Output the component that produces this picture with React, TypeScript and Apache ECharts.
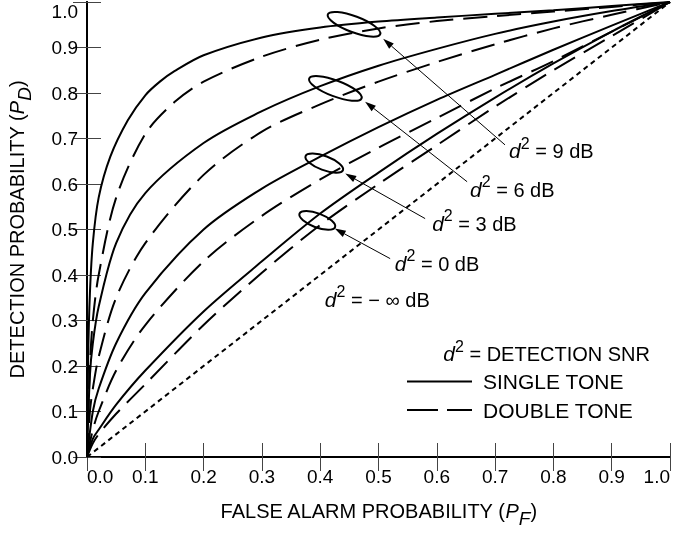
import React, { useEffect, useRef } from 'react';
import * as echarts from 'echarts';

const FONT = '"Liberation Sans", Arial, Helvetica, sans-serif';

// ROC curves [P_F, P_D]
const single9 = [[0,0],[0.002,0.22],[0.005,0.36],[0.01,0.47],[0.02,0.57],[0.04,0.66],[0.07,0.74],[0.1,0.795],[0.125,0.825],[0.15,0.848],[0.2,0.883],[0.3,0.922],[0.4,0.944],[0.5,0.957],[0.6,0.966],[0.7,0.974],[0.8,0.982],[0.9,0.991],[1,1]];
const double9 = [[0,0],[0.005,0.2],[0.01,0.3],[0.02,0.4],[0.05,0.57],[0.1,0.71],[0.15,0.78],[0.2,0.825],[0.3,0.88],[0.4,0.917],[0.5,0.942],[0.6,0.958],[0.7,0.969],[0.8,0.979],[0.9,0.989],[1,1]];
const single6 = [[0,0],[0.005,0.18],[0.01,0.25],[0.02,0.33],[0.05,0.47],[0.1,0.58],[0.2,0.69],[0.3,0.76],[0.4,0.815],[0.5,0.86],[0.6,0.897],[0.7,0.93],[0.8,0.957],[0.9,0.98],[1,1]];
const double6 = [[0,0],[0.005,0.1],[0.01,0.15],[0.02,0.22],[0.05,0.35],[0.1,0.47],[0.2,0.62],[0.3,0.715],[0.4,0.775],[0.5,0.825],[0.6,0.868],[0.7,0.907],[0.8,0.942],[0.9,0.972],[1,1]];
const single3 = [[0,0],[0.01,0.1],[0.02,0.15],[0.05,0.25],[0.1,0.36],[0.2,0.5],[0.3,0.59],[0.4,0.66],[0.5,0.725],[0.6,0.785],[0.7,0.84],[0.8,0.895],[0.9,0.948],[1,1]];
const double3 = [[0,0],[0.01,0.06],[0.02,0.1],[0.05,0.19],[0.1,0.29],[0.2,0.43],[0.3,0.53],[0.4,0.61],[0.5,0.68],[0.6,0.745],[0.7,0.81],[0.8,0.87],[0.9,0.935],[1,1]];
const single0 = [[0,0],[0.01,0.04],[0.02,0.06],[0.05,0.115],[0.1,0.19],[0.2,0.32],[0.3,0.43],[0.4,0.535],[0.5,0.625],[0.6,0.71],[0.7,0.79],[0.8,0.865],[0.9,0.935],[1,1]];
const double0 = [[0,0],[0.01,0.03],[0.02,0.05],[0.05,0.095],[0.1,0.16],[0.2,0.29],[0.3,0.405],[0.4,0.51],[0.5,0.6],[0.6,0.685],[0.7,0.77],[0.8,0.85],[0.9,0.925],[1,1]];
const chance = [[0,0],[1,1]];

// Annotations (data coordinates)
const snrLabels = ['9', '6', '3', '0'];
const ellipseCenters = [[0.458,0.951],[0.426,0.810],[0.407,0.646],[0.395,0.520]];
const ellipseRadii = [[28,8],[28,8],[20,7],[19,7]];
const arrowHeads = [[0.508,0.919],[0.477,0.781],[0.443,0.623],[0.425,0.502]];
const arrowTails = [[0.717,0.686],[0.652,0.605],[0.580,0.524],[0.520,0.436]];
const labelAnchors = [[0.724,0.679],[0.657,0.594],[0.592,0.519],[0.528,0.431]];
const infLabelAnchor = [0.408, 0.352];
const legendNames = ['SINGLE TONE', 'DOUBLE TONE'];

const richD = {
  i: { fontFamily: FONT, fontSize: 21, fontStyle: 'italic', color: '#000', lineHeight: 26, verticalAlign: 'bottom' },
  sup: { fontFamily: FONT, fontSize: 16, color: '#000', lineHeight: 26, verticalAlign: 'top' },
  n: { fontFamily: FONT, fontSize: 20, color: '#000', lineHeight: 26, verticalAlign: 'bottom' },
};

export default function App() {
  const ref = useRef<HTMLDivElement>(null);
  useEffect(() => {
    if (!ref.current) return;
    const chart = echarts.init(ref.current, undefined, { renderer: 'svg' });
    const solid = { color: '#000', width: 2, type: 'solid' as const };
    const dashed = { color: '#000', width: 2, type: [24, 10] };
    const mk = (name: string, data: number[][], ls: any) => ({
      type: 'line', name, data, symbol: 'none', smooth: 0.3, silent: true,
      lineStyle: ls, itemStyle: { color: '#000' },
    });
    const axisCommon = {
      type: 'value', min: 0, max: 1, interval: 0.1,
      axisLine: { show: true, lineStyle: { color: '#000', width: 2 } },
      axisTick: { show: true, inside: true, length: 14, lineStyle: { color: '#444', width: 1 } },
      splitLine: { show: false },
    };
    const nameRich = {
      n: { fontFamily: FONT, fontSize: 20, color: '#000', lineHeight: 28 },
      i: { fontFamily: FONT, fontSize: 20, fontStyle: 'italic', color: '#000', lineHeight: 28 },
      s: { fontFamily: FONT, fontSize: 19, fontStyle: 'italic', color: '#000', lineHeight: 28, padding: [14, 0, 0, 0] },
    };
    chart.setOption({
      animation: false,
      grid: { left: 87, right: 6, top: 2, bottom: 79, outerBoundsMode: 'none', containLabel: false },
      xAxis: [
        {
          ...axisCommon, position: 'bottom',
          name: '{n|FALSE ALARM PROBABILITY (}{i|P}{s|F}{n|)}',
          nameLocation: 'middle', nameGap: 40,
          nameTextStyle: { rich: nameRich },
          axisLabel: {
            show: true, margin: 10, fontFamily: FONT, fontSize: 19, color: '#000',
            formatter: (v: number) => v.toFixed(1), alignMinLabel: 'left', alignMaxLabel: 'right',
          },
        },
        { ...axisCommon, position: 'top', axisLabel: { show: false } },
      ],
      yAxis: [
        {
          ...axisCommon, position: 'left',
          name: '{n|DETECTION PROBABILITY (}{i|P}{s|D}{n|)}',
          nameLocation: 'middle', nameGap: 56,
          nameTextStyle: { rich: nameRich },
          axisLabel: {
            show: true, margin: 9, fontFamily: FONT, fontSize: 19, color: '#000',
            formatter: (v: number) => v.toFixed(1), verticalAlignMaxLabel: 'top',
          },
        },
        { ...axisCommon, position: 'right', axisLabel: { show: false } },
      ],
      series: [
        mk('SINGLE TONE 9', single9, solid),
        mk('DOUBLE TONE 9', double9, dashed),
        mk('SINGLE TONE 6', single6, solid),
        mk('DOUBLE TONE 6', double6, dashed),
        mk('SINGLE TONE 3', single3, solid),
        mk('DOUBLE TONE 3', double3, dashed),
        mk('SINGLE TONE 0', single0, solid),
        mk('DOUBLE TONE 0', double0, dashed),
        { type: 'line', name: 'chance', data: chance, symbol: 'none', silent: true,
          lineStyle: { color: '#000', width: 2, type: [5, 4] } },
      ],
    });

    const px = (p: number[]) => chart.convertToPixel({ gridIndex: 0 }, p) as number[];
    const graphics: any[] = [];
    ellipseCenters.forEach((c, k) => {
      const [cx, cy] = px(c);
      graphics.push({
        type: 'ellipse', x: cx, y: cy, rotation: -0.36, silent: true,
        shape: { cx: 0, cy: 0, rx: ellipseRadii[k][0], ry: ellipseRadii[k][1] },
        style: { fill: 'none', stroke: '#000', lineWidth: 2 },
      });
    });
    arrowHeads.forEach((h, k) => {
      const [hx, hy] = px(h);
      const [tx, ty] = px(arrowTails[k]);
      const dx = hx - tx, dy = hy - ty;
      const len = Math.sqrt(dx * dx + dy * dy);
      const ux = dx / len, uy = dy / len;
      const L = 11, W = 3.5;
      const bx = hx - ux * L, by = hy - uy * L;
      graphics.push({
        type: 'line', silent: true,
        shape: { x1: tx, y1: ty, x2: bx, y2: by },
        style: { stroke: '#000', lineWidth: 1 },
      });
      graphics.push({
        type: 'polygon', silent: true,
        shape: { points: [[hx, hy], [bx - uy * W, by + ux * W], [bx + uy * W, by - ux * W]] },
        style: { fill: '#000' },
      });
      const [lx, ly] = px(labelAnchors[k]);
      graphics.push({
        type: 'text', x: lx, y: ly, silent: true,
        style: {
          text: `{i|d}{sup|2}{n| = ${snrLabels[k]} dB}`,
          rich: richD, verticalAlign: 'middle', align: 'left',
        },
      });
    });
    const [ix, iy] = px(infLabelAnchor);
    graphics.push({
      type: 'text', x: ix, y: iy, silent: true,
      style: { text: '{i|d}{sup|2}{n| = − ∞ dB}', rich: richD, verticalAlign: 'middle', align: 'left' },
    });
    // legend block
    graphics.push({
      type: 'text', x: 650, y: 351, silent: true,
      style: { text: '{i|d}{sup|2}{n| = DETECTION SNR}', rich: richD, verticalAlign: 'middle', align: 'right' },
    });
    graphics.push({ type: 'line', silent: true, shape: { x1: 407, y1: 381.5, x2: 472, y2: 381.5 }, style: { stroke: '#000', lineWidth: 2 } });
    graphics.push({ type: 'line', silent: true, shape: { x1: 407, y1: 410, x2: 438, y2: 410 }, style: { stroke: '#000', lineWidth: 2 } });
    graphics.push({ type: 'line', silent: true, shape: { x1: 447, y1: 410, x2: 472, y2: 410 }, style: { stroke: '#000', lineWidth: 2 } });
    legendNames.forEach((nm, k) => {
      graphics.push({
        type: 'text', x: 483, y: 381.5 + k * 28.5, silent: true,
        style: { text: nm, fontFamily: FONT, fontSize: 21, fill: '#000', verticalAlign: 'middle', align: 'left' },
      });
    });
    chart.setOption({ graphic: graphics });

    return () => chart.dispose();
  }, []);
  return <div ref={ref} style={{ position: 'fixed', left: 0, top: 0, width: 676, height: 536 }} />;
}
